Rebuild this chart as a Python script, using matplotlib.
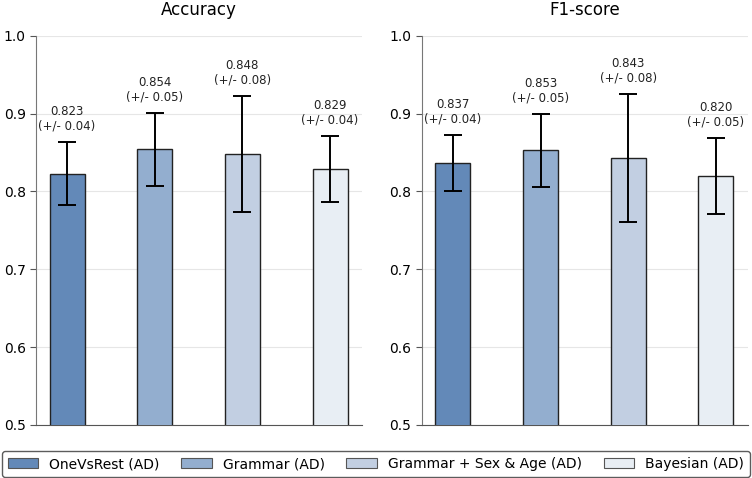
import numpy as np
import matplotlib
matplotlib.use("Agg")
import matplotlib.pyplot as plt
from matplotlib.patches import Patch

models = ["OneVsRest (AD)", "Grammar (AD)", "Grammar + Sex & Age (AD)", "Bayesian (AD)"]
colors = ["#6389b8", "#93aecf", "#c2cfe2", "#e8eef4"]

acc_mean = [0.823, 0.854, 0.848, 0.829]
acc_std = [0.041, 0.047, 0.075, 0.042]
acc_lbl = ["0.04", "0.05", "0.08", "0.04"]

f1_mean = [0.837, 0.853, 0.843, 0.820]
f1_std = [0.036, 0.047, 0.082, 0.049]
f1_lbl = ["0.04", "0.05", "0.08", "0.05"]

fig = plt.figure(figsize=(7.52, 4.78), dpi=100)
ax1 = fig.add_axes([0.048, 0.111, 0.434, 0.814])
ax2 = fig.add_axes([0.561, 0.111, 0.434, 0.814])

x = np.arange(len(models))
for ax, mean, std, lbl, title in ((ax1, acc_mean, acc_std, acc_lbl, "Accuracy"),
                                  (ax2, f1_mean, f1_std, f1_lbl, "F1-score")):
    ax.bar(x, mean, width=0.4, color=colors, edgecolor="#222222", linewidth=1.0,
           yerr=std, capsize=6.5, error_kw=dict(elinewidth=1.4, capthick=1.4, ecolor="black"),
           zorder=3)
    for xi, m, s, l in zip(x, mean, std, lbl):
        ax.text(xi, m + s + 0.012, f"{m:.3f}\n(+/- {l})", ha="center", va="bottom",
                fontsize=8.5, color="#222222", linespacing=1.15)
    ax.set_ylim(0.5, 1.0)
    ax.set_xlim(-0.354, 3.37)
    ax.set_yticks([0.5, 0.6, 0.7, 0.8, 0.9, 1.0])
    ax.set_xticks([])
    ax.tick_params(axis="y", labelsize=10, color="#555555", length=4)
    ax.yaxis.grid(True, color="#e6e6e6", linewidth=0.8, zorder=0)
    ax.set_axisbelow(True)
    for sp in ("top", "right"):
        ax.spines[sp].set_visible(False)
    ax.spines["left"].set_color("#777777")
    ax.spines["bottom"].set_color("#555555")
    ax.set_title(title, fontsize=12, pad=15)

handles = [Patch(facecolor=c, edgecolor="#555555", linewidth=0.8, label=m)
           for c, m in zip(colors, models)]
fig.legend(handles=handles, loc="lower left", bbox_to_anchor=(0.003, 0.003, 0.994, 0.05),
           ncol=4, mode="expand", fontsize=10, frameon=True, edgecolor="#333333",
           fancybox=True, handlelength=2.2, borderaxespad=0.0)

fig.savefig("out.png", dpi=100)
